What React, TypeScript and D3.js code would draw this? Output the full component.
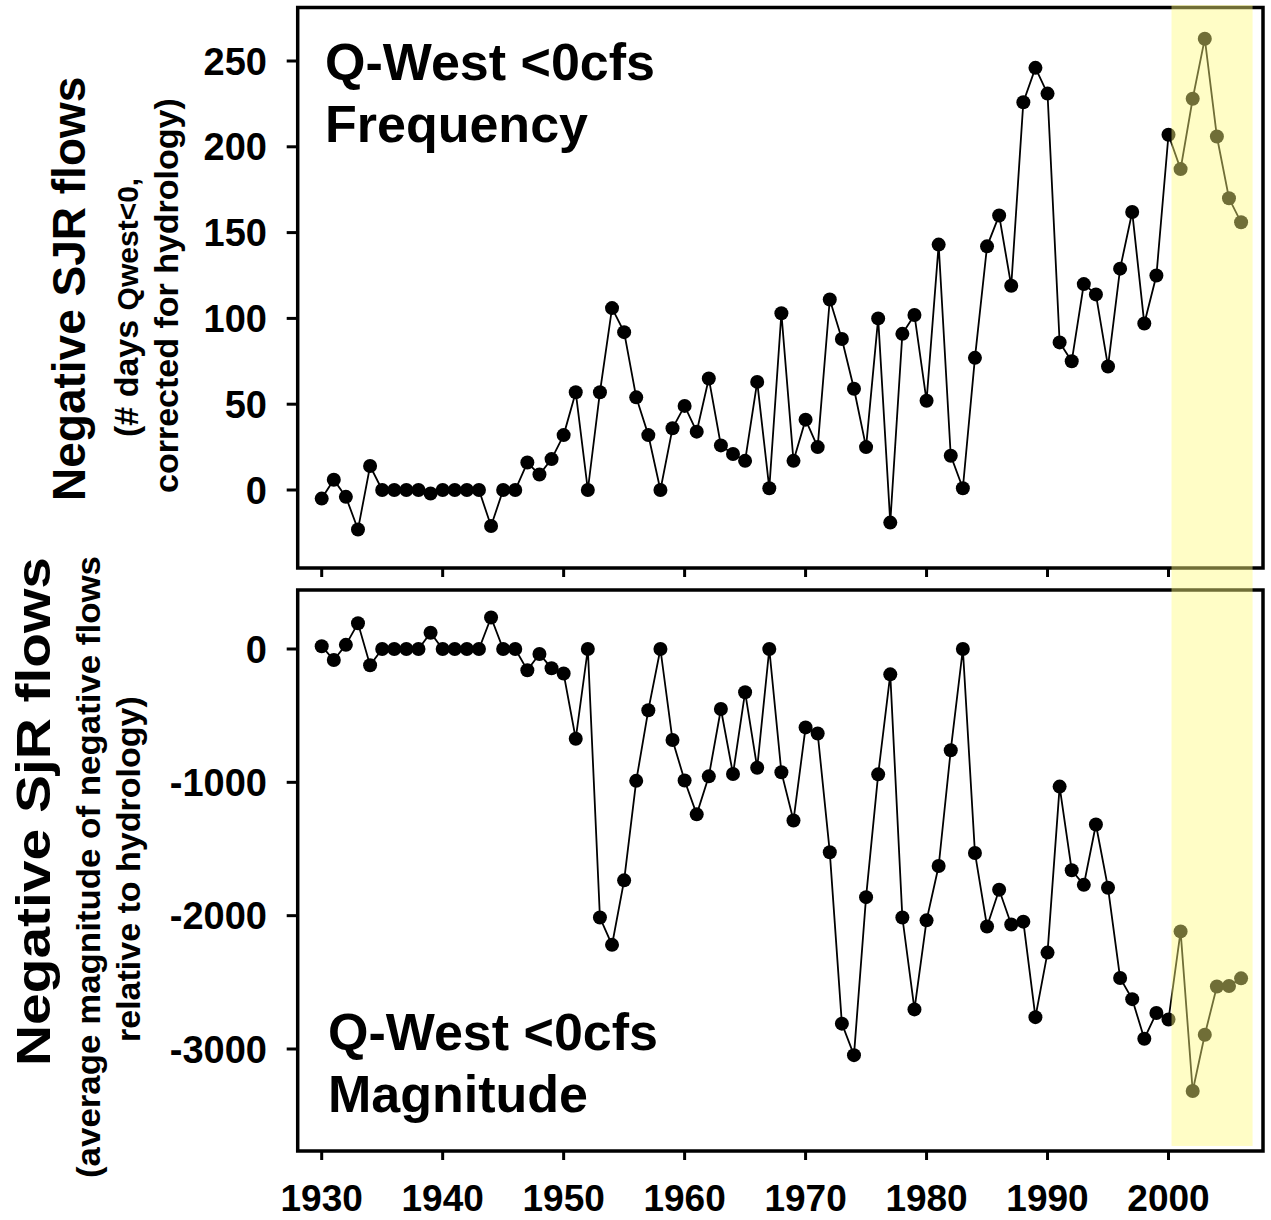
import * as d3 from 'd3';

// years shown on both panels
const years = d3.range(1930, 2007);

// top panel: # days Qwest < 0 (corrected for hydrology)
const frequency = [
  -5, 6, -4, -23, 14, 0, 0, 0, 0, -2,
  0, 0, 0, 0, -21, 0, 0, 16, 9, 18,
  32, 57, 0, 57, 106, 92, 54, 32, 0, 36,
  49, 34, 65, 26, 21, 17, 63, 1, 103, 17,
  41, 25, 111, 88, 59, 25, 100, -19, 91, 102,
  52, 143, 20, 1, 77, 142, 160, 119, 226, 246,
  231, 86, 75, 120, 114, 72, 129, 162, 97, 125,
  207, 187, 228, 263, 206, 170, 156,
];

// bottom panel: average magnitude of negative flows
const magnitude = [
  21, -83, 31, 193, -122, 0, 0, 0, 0, 122,
  0, 0, 0, 0, 236, 0, 0, -159, -37, -144,
  -184, -673, 0, -2014, -2219, -1735, -989, -459, 0, -683,
  -986, -1240, -955, -450, -937, -324, -891, 0, -924, -1286,
  -588, -634, -1524, -2810, -3046, -1861, -940, -190, -2014, -2703,
  -2035, -1628, -759, 0, -1530, -2081, -1806, -2066, -2045, -2761,
  -2277, -1032, -1659, -1769, -1316, -1791, -2467, -2626, -2923, -2730,
  -2779, -2118, -3315, -2893, -2531, -2528, -2470,
];

const freqTicks = [0, 50, 100, 150, 200, 250];
const magTicks = [0, -1000, -2000, -3000];
const yearTicks = [1930, 1940, 1950, 1960, 1970, 1980, 1990, 2000];
const recentPeriod = [2000.25, 2006.95];

const FONT = '"Liberation Sans", Arial, Helvetica, sans-serif';
const frameLeft = 297.7;
const frameRight = 1263;
const topFrame = { y0: 7.5, y1: 568 };
const botFrame = { y0: 590, y1: 1151 };

const x = d3.scaleLinear().domain([1930, 2000]).range([321.7, 1168.5]);
const yFreq = d3.scaleLinear().domain([0, 250]).range([490, 61]);
const yMag = d3.scaleLinear().domain([0, -3000]).range([649, 1049]);

function Panel({ values, y, ticks, frame }) {
  const line = d3
    .line<number>()
    .x((d, i) => x(years[i]))
    .y((d) => y(d));

  return (
    <g>
      <rect
        x={frameLeft}
        y={frame.y0}
        width={frameRight - frameLeft}
        height={frame.y1 - frame.y0}
        fill="none"
        stroke="#000"
        strokeWidth={3.5}
      />
      {ticks.map((t) => (
        <g key={t}>
          <line x1={frameLeft - 11} x2={frameLeft} y1={y(t)} y2={y(t)} stroke="#000" strokeWidth={3} />
          <text
            x={267}
            y={y(t) + 13.5}
            textAnchor="end"
            fontSize={38}
            fontWeight="bold"
          >
            {t}
          </text>
        </g>
      ))}
      {yearTicks.map((t) => (
        <line key={t} x1={x(t)} x2={x(t)} y1={frame.y1} y2={frame.y1 + 9} stroke="#000" strokeWidth={3} />
      ))}
      <path d={line(values)} fill="none" stroke="#000" strokeWidth={1.8} />
      {values.map((v, i) => (
        <circle key={i} cx={x(years[i])} cy={y(v)} r={7} fill="#000" />
      ))}
    </g>
  );
}

export default function App() {
  return (
    <svg
      width={1271}
      height={1220}
      style={{ position: 'absolute', left: 0, top: 0, background: '#fff' }}
      fontFamily={FONT}
    >
      <Panel values={frequency} y={yFreq} ticks={freqTicks} frame={topFrame} />
      <Panel values={magnitude} y={yMag} ticks={magTicks} frame={botFrame} />

      {yearTicks.map((t) => (
        <text key={t} x={x(t)} y={1211} textAnchor="middle" fontSize={37} fontWeight="bold">
          {t}
        </text>
      ))}

      {/* panel titles */}
      <text x={325} y={80} fontSize={52} fontWeight="bold">Q-West &lt;0cfs</text>
      <text x={325} y={142} fontSize={52} fontWeight="bold">Frequency</text>
      <text x={328} y={1050} fontSize={52} fontWeight="bold">Q-West &lt;0cfs</text>
      <text x={328} y={1112} fontSize={52} fontWeight="bold">Magnitude</text>

      {/* y titles, top */}
      <text transform="translate(85,501) rotate(-90)" fontSize={46} fontWeight="bold">
        Negative SJR flows
      </text>
      <text transform="translate(138,437) rotate(-90)" fontWeight="bold">
        <tspan fontSize={34}>(# days </tspan>
        <tspan fontSize={30}>Qwest&lt;0,</tspan>
      </text>
      <text transform="translate(178,493) rotate(-90)" fontSize={34} fontWeight="bold">
        corrected for hydrology)
      </text>

      {/* y titles, bottom */}
      <text
        transform="translate(50,1066) rotate(-90)"
        fontSize={48}
        fontWeight="bold"
        textLength={509}
        lengthAdjust="spacingAndGlyphs"
      >
        Negative SjR flows
      </text>
      <text
        transform="translate(100,1178) rotate(-90)"
        fontSize={34}
        fontWeight="bold"
        textLength={622}
        lengthAdjust="spacingAndGlyphs"
      >
        (average magnitude of negative flows
      </text>
      <text transform="translate(140,1042) rotate(-90)" fontSize={34} fontWeight="bold">
        relative to hydrology)
      </text>

      {/* recent years highlight, drawn over the data */}
      <rect
        x={x(recentPeriod[0])}
        y={5}
        width={x(recentPeriod[1]) - x(recentPeriod[0])}
        height={1141}
        fill="rgb(255,250,125)"
        fillOpacity={0.44}
      />
    </svg>
  );
}
